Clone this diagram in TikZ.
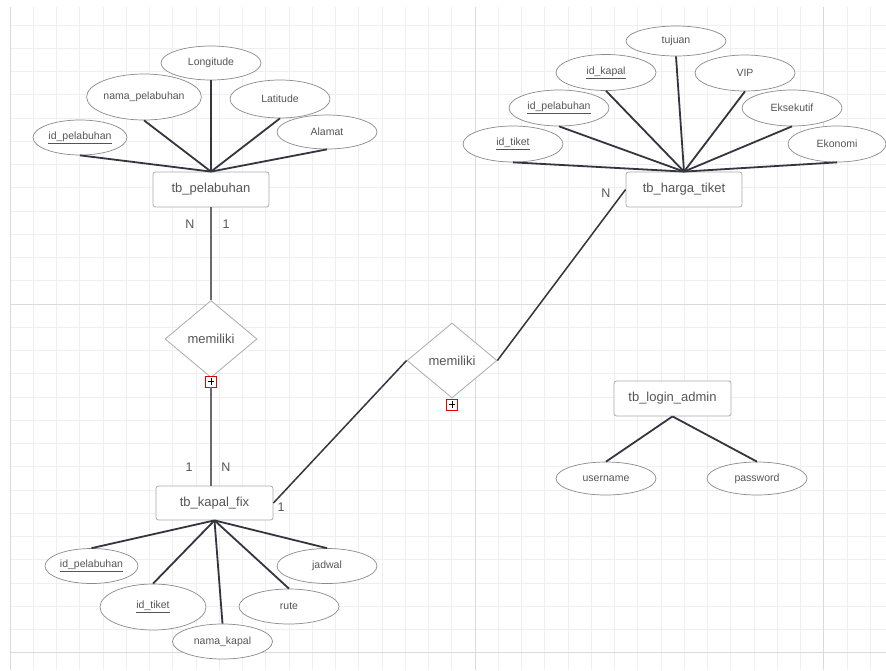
\documentclass[tikz,border=0pt]{standalone}
\usepackage{fontspec}
\setmainfont{Liberation Sans}
\usetikzlibrary{shapes.geometric}
\definecolor{txt}{HTML}{555555}
\definecolor{ellc}{HTML}{8A8A8A}
\definecolor{boxc}{HTML}{ABABAB}
\definecolor{linec}{HTML}{353540}
\definecolor{vlinec}{HTML}{6A6A6A}
\definecolor{gminor}{HTML}{EFEFEF}
\definecolor{gmajor}{HTML}{DADADA}
\begin{document}
\begin{tikzpicture}[x=1pt,y=-1pt,
  gridminor/.style={draw=gminor,line width=0.8pt},
  gridmajor/.style={draw=gmajor,line width=1pt},
  ent/.style={draw=boxc,rounded corners=2.5pt,fill=white,minimum width=116pt,minimum height=35pt,inner sep=0pt,font=\fontsize{13}{15}\selectfont,text=txt,line width=0.8pt},
  attr/.style={ellipse,draw=ellc,fill=white,minimum width=100pt,minimum height=35pt,inner sep=0pt,font=\fontsize{10.5}{12}\selectfont,text=txt,line width=0.7pt},
  rel/.style={diamond,draw=boxc,fill=white,minimum width=92pt,minimum height=77pt,inner sep=0pt,font=\fontsize{13}{15}\selectfont,text=txt,line width=0.8pt},
  plusbox/.style={draw=red!90!black,fill=white,minimum size=11pt,inner sep=0pt,line width=0.8pt,
    path picture={\draw[black,line width=1pt] ([xshift=-3.2pt]path picture bounding box.center) -- ([xshift=3.2pt]path picture bounding box.center);
                  \draw[black,line width=1pt] ([yshift=-3.2pt]path picture bounding box.center) -- ([yshift=3.2pt]path picture bounding box.center);}},
  conn/.style={draw=linec,line width=1.8pt},
  vconn/.style={draw=vlinec,line width=2.4pt},
  rconn/.style={draw=linec,line width=1.5pt},
  lab/.style={font=\fontsize{12.5}{14}\selectfont,text=txt,inner sep=0pt}
]
\useasboundingbox (0,0) rectangle (886,670);
\fill[white] (0,0) rectangle (886,670);
% grid
\foreach \i in {0,...,37} \draw[gridminor] ({10+\i*23.25},7) -- ({10+\i*23.25},670);
\foreach \j in {-12,...,15} \draw[gridminor] (10,{304+\j*23.25}) -- (886,{304+\j*23.25});
\foreach \xx in {10,475,823.75} \draw[gridmajor] (\xx,7) -- (\xx,670);
\foreach \yy in {304,652.75} \draw[gridmajor] (10,\yy) -- (886,\yy);

% entities
\node[ent] (pel) at (211,189.5) {tb\_pelabuhan};
\node[ent] (harga) at (684,189.5) {tb\_harga\_tiket};
\node[ent,minimum width=117pt,minimum height=34pt] (kapal) at (214.5,503) {tb\_kapal\_fix};
\node[ent,minimum width=117pt] (login) at (672.5,398.5) {tb\_login\_admin};

% pelabuhan attributes
\node[attr,minimum height=34pt] (p1) at (211,63) {Longitude};
\node[attr,minimum width=106pt,minimum height=46pt] (p2) at (144,97) {nama\_pelabuhan};
\node[attr,minimum height=38pt] (p3) at (280,99) {Latitude};
\node[attr,minimum width=94pt] (p4) at (80,137.5) {\underline{id\_pelabuhan}};
\node[attr,minimum height=34pt] (p5) at (327,132) {Alamat};

% harga attributes
\node[attr,minimum height=30pt] (h1) at (676,41) {tujuan};
\node[attr,minimum height=36pt] (h2) at (606,72.5) {\underline{id\_kapal}};
\node[attr,minimum height=36pt] (h3) at (745,73) {VIP};
\node[attr,minimum height=36pt] (h4) at (559,108) {\underline{id\_pelabuhan}};
\node[attr,minimum height=36pt] (h5) at (792,108) {Eksekutif};
\node[attr,minimum height=36pt] (h6) at (513,144) {\underline{id\_tiket}};
\node[attr,minimum width=98pt,minimum height=36pt] (h7) at (837,144) {Ekonomi};

% kapal attributes
\node[attr,minimum width=93pt] (k1) at (91.5,566) {\underline{id\_pelabuhan}};
\node[attr,minimum width=106pt,minimum height=46pt] (k2) at (153,607) {\underline{id\_tiket}};
\node[attr] (k3) at (222.5,641.5) {nama\_kapal};
\node[attr] (k4) at (289,606.5) {rute};
\node[attr] (k5) at (327,566) {jadwal};

% login attributes
\node[attr,minimum height=33pt] (l1) at (606,478.5) {username};
\node[attr,minimum height=33pt] (l2) at (757,478.5) {password};

% relationships
\node[rel] (d1) at (211,339) {memiliki};
\node[rel,minimum width=90pt,minimum height=75pt] (d2) at (452,360.5) {memiliki};
\node[plusbox] (b1) at (211,381.5) {};
\node[plusbox] (b2) at (452,404.5) {};

% connectors
\foreach \a in {p1,p2,p3,p4,p5} \draw[conn] (\a.south) -- (pel.north);
\foreach \a in {h1,h2,h3,h4,h5,h6,h7} \draw[conn] (\a.south) -- (harga.north);
\foreach \a in {k1,k2,k3,k4,k5} \draw[conn] (\a.north) -- (kapal.south);
\foreach \a in {l1,l2} \draw[conn] (\a.north) -- (login.south);

\draw[vconn] (pel.south) -- (d1.north);
\draw[vconn] (b1.south) -- (b1.south |- kapal.north);
\draw[rconn] (d2.west) -- (kapal.east);
\draw[rconn] (d2.east) -- (harga.west);

% cardinality labels
\node[lab] (c1) at (190,224) {N};
\node[lab] (c2) at (226,224) {1};
\node[lab] (c3) at (189,467) {1};
\node[lab] (c4) at (226,467) {N};
\node[lab] (c5) at (281,507) {1};
\node[lab] (c6) at (606,193) {N};
\end{tikzpicture}
\end{document}
